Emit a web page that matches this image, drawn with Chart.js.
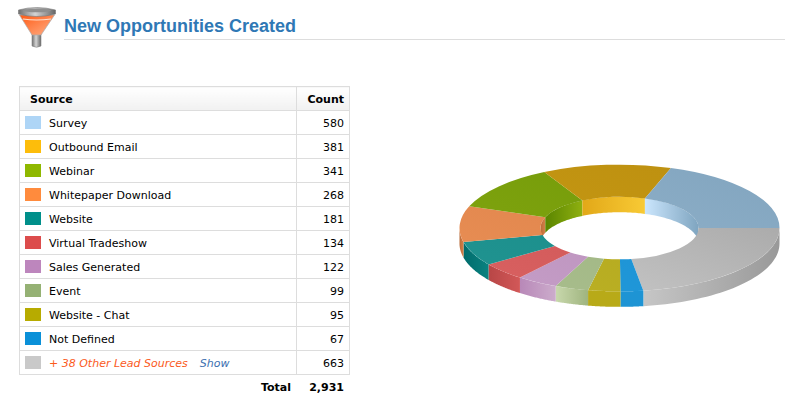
<!DOCTYPE html>
<html>
<head>
<meta charset="utf-8">
<script src="https://cdn.jsdelivr.net/npm/chart.js@4"></script>
<style>
  html, body { margin: 0; padding: 0; background: #fff; overflow: hidden; }
  body { width: 785px; height: 396px; position: relative; font: 11px "DejaVu Sans", sans-serif; color: #000; }
  #icon { position: absolute; left: 18px; top: 7px; }
  h1 { position: absolute; left: 64px; top: 16px; margin: 0; font: bold 18px "Liberation Sans", sans-serif; color: #2f78b5; }
  #rule { position: absolute; left: 64px; top: 39px; width: 721px; height: 1px; background: #ddd; }
  table { position: absolute; left: 19px; top: 86px; width: 331px; border-collapse: collapse; table-layout: fixed; }
  th, td { border: 1px solid #ddd; height: 21px; padding: 2px 5px 0 0; box-sizing: content-box; white-space: nowrap; }
  th { background: linear-gradient(#fff, #f1f1f1); font-weight: bold; text-align: left; padding-left: 10px; }
  th.num, td.num { text-align: right; width: 47px; padding-left: 0; }
  td.name { padding-left: 29px; position: relative; }
  .swatch { position: absolute; left: 5px; top: 5px; width: 16px; height: 13px; }
  .other { color: #fb5a1c; font-style: italic; }
  .show { color: #3c70b0; font-style: italic; margin-left: 12px; }
  .foot { position: absolute; top: 381px; font-weight: bold; }
  #chartBox { position: absolute; left: 459px; top: 68px; width: 321px; height: 320px; }
</style>
</head>
<body>
<svg id="icon" width="38" height="41" viewBox="0 0 38 41">
  <defs>
    <linearGradient id="rim" x1="0" x2="1" y1="0" y2="0"><stop offset="0" stop-color="#6f6f6f"/><stop offset=".45" stop-color="#d4d4d4"/><stop offset="1" stop-color="#666"/></linearGradient>
    <linearGradient id="cone" x1="0" x2="1" y1="0" y2="1"><stop offset="0" stop-color="#ff5a14"/><stop offset="1" stop-color="#ffb088"/></linearGradient>
  </defs>
  <path d="M14 26 L23 26 L23 39 Q18.5 41.5 14 39 Z" fill="url(#rim)" stroke="#888" stroke-width=".6"/>
  <path d="M1.5 8 L36.5 8 L23 28 L14 28 Z" fill="url(#cone)" stroke="#aaa" stroke-width=".7"/>
  <path d="M5 12 Q18.5 14 33 12" stroke="#ffe2d0" stroke-width="1.2" fill="none"/>
  <path d="M0.5 3 Q18.5 -2 37.5 3 L37.5 7 Q18.5 12 0.5 7 Z" fill="url(#rim)" stroke="#777" stroke-width=".6"/>
  <ellipse cx="19" cy="3.4" rx="14" ry="1.8" fill="#8f8f8f"/>
</svg>
<h1>New Opportunities Created</h1>
<div id="rule"></div>
<table id="legend"></table>
<div class="foot" style="right:494px">Total</div>
<div class="foot" id="grandTotal" style="right:441px"></div>
<div id="chartBox"><canvas id="donut" width="321" height="320"></canvas></div>

<script>
const SOURCES = ['Survey', 'Outbound Email', 'Webinar', 'Whitepaper Download', 'Website', 'Virtual Tradeshow', 'Sales Generated', 'Event', 'Website - Chat', 'Not Defined', '+ 38 Other Lead Sources'];
const COUNTS = [580, 381, 341, 268, 181, 134, 122, 99, 95, 67, 663];
const TOTAL_LABEL = '2,931';
const SWATCHES = ['#aed5f6', '#fdbd0b', '#8fb800', '#ff8b3d', '#008f8a', '#dc4c4c', '#bd86bd', '#95b174', '#b7ab00', '#0a90d8', '#c9c9c9'];
// top face of the ring: far right edge, near left edge
const TOP_FAR = ['#83a6c0', '#bd9010', '#729a08', '#dc8048', '#168a88', '#ca5252', '#b68cb6', '#9bb27e', '#b0a61c', '#1c90d0', '#a4a4a4'];
const TOP_NEAR = ['#96b6ce', '#c89a14', '#82a510', '#e88e54', '#209390', '#d86060', '#c49cc6', '#a8bd8c', '#bbb024', '#2098da', '#cacaca'];
// side walls, left to right
const WALL_LEFT = ['#cbe6fd', '#e2a818', '#5a8500', '#b86a38', '#006c6c', '#b84646', '#b888b8', '#c8d8ac', '#b8aa18', '#1e94d4', '#c6c6c6'];
const WALL_RIGHT = ['#7fa5c0', '#f8ca35', '#8fb010', '#d88048', '#0a8280', '#d25858', '#ccaccc', '#9fb47f', '#b8aa18', '#1e94d4', '#999999'];

const CX = 160.5, CY = 160, SQUASH = 0.396, DEPTH = 15.5;

document.getElementById('grandTotal').textContent = TOTAL_LABEL;
document.getElementById('legend').innerHTML = '<tr><th>Source</th><th class="num">Count</th></tr>' + SOURCES.map((s, i) => {
  const last = i === SOURCES.length - 1;
  const label = last ? `<span class="other">${s}</span><span class="show">Show</span>` : s;
  return `<tr><td class="name"><span class="swatch" style="background:${SWATCHES[i]}"></span>${label}</td><td class="num">${COUNTS[i]}</td></tr>`;
}).join('');

// chart runs clockwise from 3 o'clock, the table reads the other way round
const flip = arr => arr.slice().reverse();
const wallL = flip(WALL_LEFT), wallR = flip(WALL_RIGHT), topFar = flip(TOP_FAR), topNear = flip(TOP_NEAR);

function ringPath(ctx, r, a0, a1, dy, reverse) {
  const steps = 40;
  for (let i = 0; i <= steps; i++) {
    const t = reverse ? 1 - i / steps : i / steps;
    const a = a0 + (a1 - a0) * t;
    ctx.lineTo(CX + r * Math.cos(a), CY + r * SQUASH * Math.sin(a) + dy);
  }
}

function drawWall(ctx, r, a0, a1, i) {
  if (a1 <= a0) return;
  const xa = CX + r * Math.cos(a0), xb = CX + r * Math.cos(a1);
  const g = ctx.createLinearGradient(Math.min(xa, xb), 0, Math.max(xa, xb) + 0.01, 0);
  g.addColorStop(0, wallL[i]);
  g.addColorStop(1, wallR[i]);
  ctx.fillStyle = g;
  ctx.beginPath();
  ringPath(ctx, r, a0, a1, 0, false);
  ringPath(ctx, r, a0, a1, DEPTH, true);
  ctx.closePath();
  ctx.fill();
}

const ring3d = {
  id: 'ring3d',
  beforeDatasetsDraw(chart) {
    const { ctx } = chart;
    const TAU = Math.PI * 2;
    chart.getDatasetMeta(0).data.forEach((arc, i) => {
      const a0 = (arc.startAngle % TAU + TAU) % TAU;
      const a1 = a0 + (arc.endAngle - arc.startAngle);
      // near outer wall: screen angles 0..PI
      drawWall(ctx, arc.outerRadius, Math.max(a0, 0), Math.min(a1, Math.PI), i);
      // far inner wall: screen angles PI..2PI
      drawWall(ctx, arc.innerRadius, Math.max(a0, Math.PI), Math.min(a1, TAU), i);
    });
    ctx.save();
    ctx.translate(CX, CY);
    ctx.scale(1, SQUASH);
    ctx.translate(-CX, -CY);
  },
  afterDatasetsDraw(chart) {
    chart.ctx.restore();
  },
};

new Chart(document.getElementById('donut'), {
  type: 'doughnut',
  data: {
    labels: flip(SOURCES),
    datasets: [{
      data: flip(COUNTS),
      backgroundColor: (c) => {
        const g = c.chart.ctx.createLinearGradient(321, 60, 60, 320);
        g.addColorStop(0, topFar[c.dataIndex]);
        g.addColorStop(1, topNear[c.dataIndex]);
        return g;
      },
      borderWidth: 0,
    }],
  },
  options: {
    responsive: false,
    animation: false,
    rotation: 90,
    radius: 160,
    cutout: 79,
    layout: { padding: 0 },
    plugins: { legend: { display: false }, tooltip: { enabled: false } },
  },
  plugins: [ring3d],
});
</script>
</body>
</html>
